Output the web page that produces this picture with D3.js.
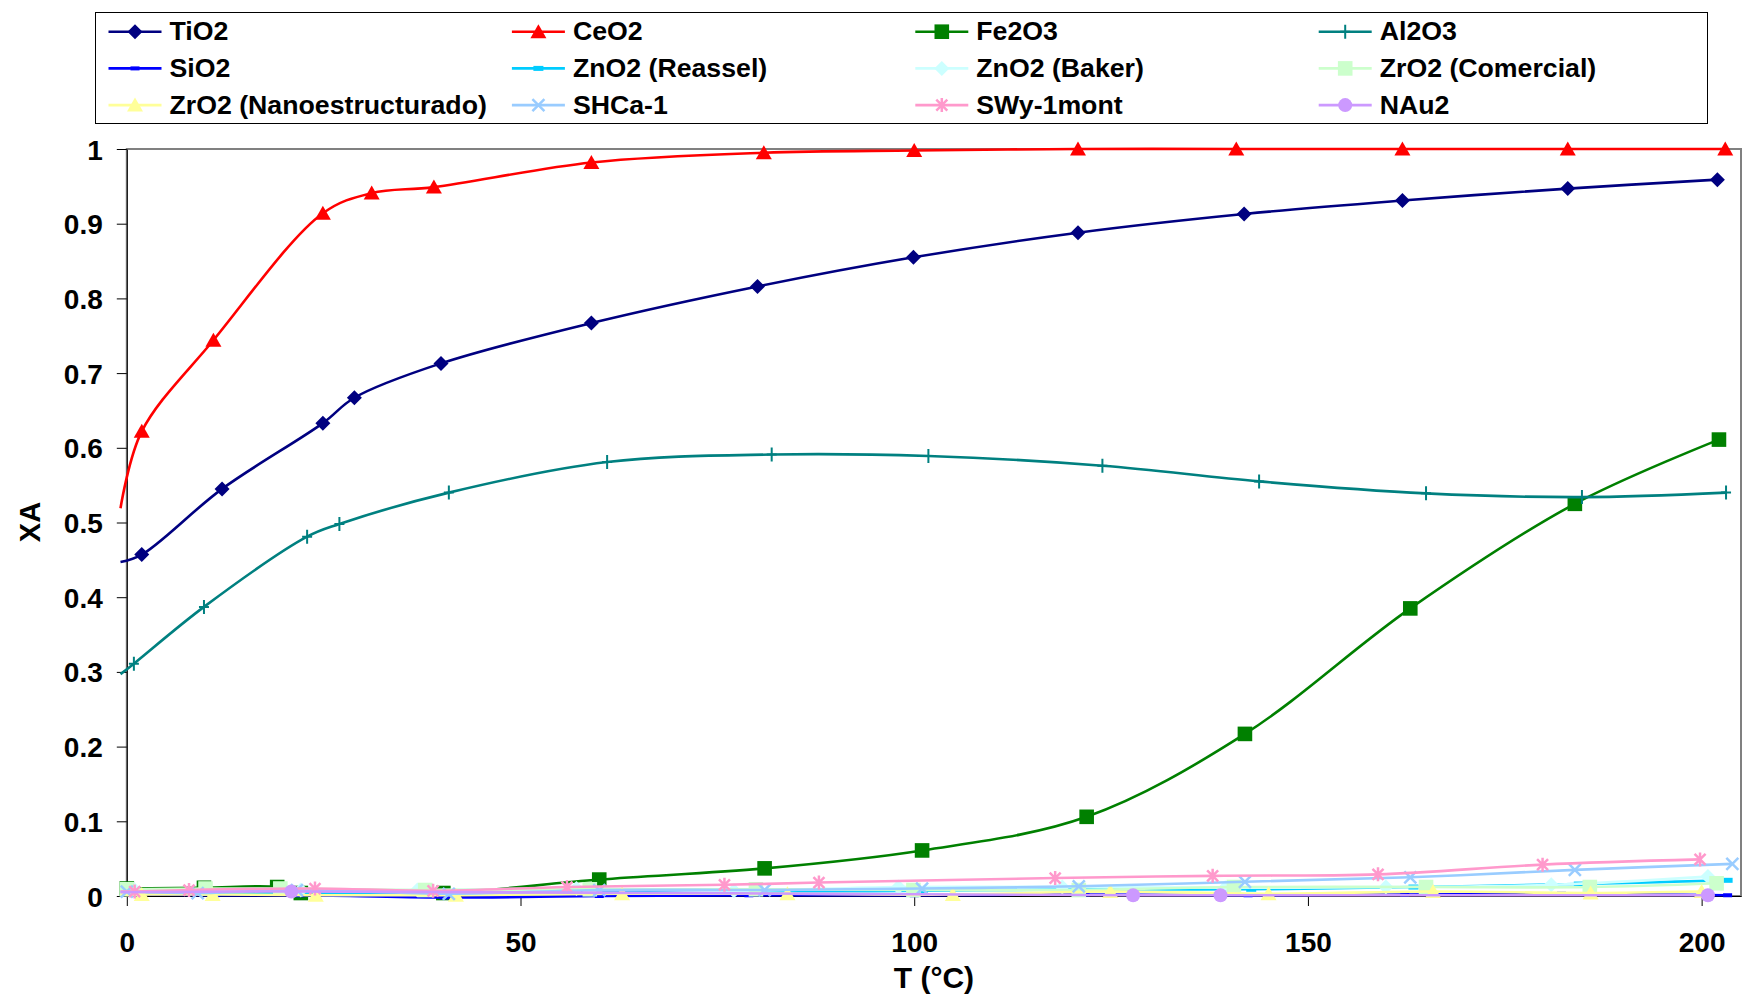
<!DOCTYPE html>
<html>
<head>
<meta charset="utf-8">
<script src="https://cdn.jsdelivr.net/npm/d3@7"></script>
<style>
  body { margin: 0; background: #fff; }
  svg { display: block; font-family: "Liberation Sans", Arial, sans-serif; font-weight: bold; }
</style>
</head>
<body>
<svg id="chart" width="1747" height="996"></svg>
<script>
// ---- Conversion XA vs temperature T (°C) for each catalyst ----
const seriesNames = ["TiO2", "CeO2", "Fe2O3", "Al2O3",
  "SiO2", "ZnO2 (Reassel)", "ZnO2 (Baker)", "ZrO2 (Comercial)",
  "ZrO2 (Nanoestructurado)", "SHCa-1", "SWy-1mont", "NAu2"];

const T_TiO2  = [-0.8, 1.9, 12.1, 24.9, 28.9, 39.9, 59.0, 80.1, 99.9, 120.8, 141.9, 162.0, 183.0, 202.0];
const XA_TiO2 = [0.447, 0.457, 0.545, 0.633, 0.667, 0.713, 0.767, 0.816, 0.855, 0.888, 0.913, 0.931, 0.947, 0.959];

const T_CeO2  = [-0.8, 1.9, 11.0, 24.9, 31.1, 39.0, 59.0, 80.9, 100.0, 120.8, 140.9, 162.0, 183.0, 203.0];
const XA_CeO2 = [0.519, 0.622, 0.744, 0.914, 0.941, 0.949, 0.982, 0.995, 0.998, 1.0, 1.0, 1.0, 1.0, 1.0];

const T_Fe2O3  = [-0.8, 0.0, 9.8, 19.1, 22.1, 40.2, 60.0, 81.0, 101.0, 121.9, 142.0, 163.0, 183.9, 202.2];
const XA_Fe2O3 = [0.010, 0.010, 0.011, 0.012, 0.004, 0.004, 0.022, 0.037, 0.061, 0.106, 0.217, 0.385, 0.525, 0.611];

const T_Al2O3  = [-0.8, 0.9, 9.8, 22.9, 27.0, 40.9, 61.0, 81.9, 101.8, 123.9, 143.8, 165.0, 184.8, 203.1];
const XA_Al2O3 = [0.297, 0.311, 0.387, 0.481, 0.498, 0.540, 0.581, 0.591, 0.589, 0.576, 0.555, 0.539, 0.534, 0.540];

const T_SiO2  = [-0.8, 1.5, 11.2, 22.0, 40.3, 60.0, 79.0, 100.0, 121.7, 142.4, 162.3, 182.2, 203.3];
const XA_SiO2 = [0.002, 0.002, 0.001, 0.001, -0.002, 0.000, 0.001, 0.001, 0.002, 0.001, 0.002, 0.003, 0.001];

const T_ZnO2R  = [-0.8, 1.0, 11.0, 21.0, 40.0, 60.0, 80.0, 101.1, 122.2, 142.8, 163.4, 184.4, 203.3];
const XA_ZnO2R = [0.003, 0.003, 0.003, 0.004, 0.004, 0.006, 0.006, 0.007, 0.009, 0.009, 0.012, 0.016, 0.021];

const T_ZnO2B  = [-0.8, 1.0, 22.1, 36.9, 57.1, 77.1, 98.0, 118.8, 139.5, 159.9, 180.9, 200.8];
const XA_ZnO2B = [0.008, 0.008, 0.008, 0.008, 0.010, 0.007, 0.012, 0.012, 0.011, 0.012, 0.015, 0.026];

const T_ZrO2C  = [-0.8, 0.0, 10.0, 19.5, 37.9, 58.8, 79.9, 99.9, 120.9, 140.6, 165.0, 185.8, 201.9];
const XA_ZrO2C = [0.009, 0.009, 0.010, 0.010, 0.008, 0.009, 0.009, 0.008, 0.008, 0.012, 0.012, 0.012, 0.017];

const T_ZrO2N  = [-0.8, 1.9, 10.9, 24.0, 41.8, 62.9, 83.9, 104.9, 124.9, 145.0, 165.9, 185.9, 200.0];
const XA_ZrO2N = [0.002, 0.002, 0.002, 0.001, 0.001, 0.003, 0.003, 0.002, 0.006, 0.003, 0.006, 0.004, 0.006];

const T_SHCa  = [-0.8, 0.0, 9.0, 21.6, 40.9, 60.0, 81.0, 101.0, 120.9, 142.0, 163.0, 183.9, 203.9];
const XA_SHCa = [0.006, 0.006, 0.004, 0.008, 0.003, 0.008, 0.008, 0.010, 0.013, 0.019, 0.025, 0.035, 0.043];

const T_SWy  = [-0.8, 1.0, 7.9, 23.9, 38.9, 55.9, 75.9, 87.9, 117.9, 137.9, 158.9, 179.8, 199.8];
const XA_SWy = [0.006, 0.006, 0.008, 0.010, 0.007, 0.012, 0.015, 0.018, 0.024, 0.027, 0.029, 0.042, 0.049];

const T_NAu2  = [-0.8, 20.9, 127.8, 138.9, 200.8];
const XA_NAu2 = [0.005, 0.006, 0.001, 0.001, 0.001];

const xTicks = [0, 50, 100, 150, 200];
const yTicks = [0, 0.1, 0.2, 0.3, 0.4, 0.5, 0.6, 0.7, 0.8, 0.9, 1];
const xTitle = "T (°C)";
const yTitle = "XA";

// ---- styles ----
const style = {
  "TiO2":                    { color: "#000080", marker: "diamond" },
  "CeO2":                    { color: "#FF0000", marker: "triangle" },
  "Fe2O3":                   { color: "#008000", marker: "square" },
  "Al2O3":                   { color: "#008080", marker: "plus" },
  "SiO2":                    { color: "#0000FF", marker: "dashS" },
  "ZnO2 (Reassel)":          { color: "#00CCFF", marker: "dashL" },
  "ZnO2 (Baker)":            { color: "#CCFFFF", marker: "diamond" },
  "ZrO2 (Comercial)":        { color: "#CCFFCC", marker: "square" },
  "ZrO2 (Nanoestructurado)": { color: "#FFFF99", marker: "triangle" },
  "SHCa-1":                  { color: "#99CCFF", marker: "x" },
  "SWy-1mont":               { color: "#FF99CC", marker: "star" },
  "NAu2":                    { color: "#CC99FF", marker: "circle" }
};

const seriesT  = [T_TiO2, T_CeO2, T_Fe2O3, T_Al2O3, T_SiO2, T_ZnO2R, T_ZnO2B, T_ZrO2C, T_ZrO2N, T_SHCa, T_SWy, T_NAu2];
const seriesXA = [XA_TiO2, XA_CeO2, XA_Fe2O3, XA_Al2O3, XA_SiO2, XA_ZnO2R, XA_ZnO2B, XA_ZrO2C, XA_ZrO2N, XA_SHCa, XA_SWy, XA_NAu2];

const series = seriesNames.map((name, i) => ({
  name,
  points: seriesT[i].map((t, j) => ({ t, v: seriesXA[i][j] }))
}));

// ---- layout ----
const svg = d3.select("#chart");
const plot = { left: 126.8, right: 1741, top: 149, bottom: 896 };

const x = d3.scaleLinear().domain([0, 205]).range([plot.left, plot.right]);
const y = d3.scaleLinear().domain([0, 1]).range([plot.bottom, plot.top]);

// plot area frame
svg.append("rect")
  .attr("x", plot.left).attr("y", plot.top)
  .attr("width", plot.right - plot.left).attr("height", plot.bottom - plot.top)
  .attr("fill", "none").attr("stroke", "#808080").attr("stroke-width", 2);

// y axis
const yAxis = svg.append("g")
  .attr("transform", `translate(${plot.left},0)`)
  .call(d3.axisLeft(y).tickValues(yTicks).tickSize(10).tickSizeOuter(0).tickPadding(14)
    .tickFormat(d => String(+d.toFixed(1))));
yAxis.select(".domain").attr("stroke", "#000").attr("stroke-width", 1);
yAxis.selectAll(".tick line").attr("stroke", "#000");
yAxis.selectAll(".tick text")
  .attr("font-size", 28).attr("font-weight", "bold").attr("fill", "#000")
  .attr("font-family", "'Liberation Sans', Arial, sans-serif")
  .attr("dy", "0.36em");

// x axis
const xAxis = svg.append("g")
  .attr("transform", `translate(0,${plot.bottom})`)
  .call(d3.axisBottom(x).tickValues(xTicks).tickSize(10).tickSizeOuter(0)
    .tickFormat(d3.format("d")));
xAxis.select(".domain").attr("stroke", "#000").attr("stroke-width", 1);
xAxis.selectAll(".tick line").attr("stroke", "#000");
xAxis.selectAll(".tick text")
  .attr("font-size", 28).attr("font-weight", "bold").attr("fill", "#000")
  .attr("font-family", "'Liberation Sans', Arial, sans-serif")
  .attr("y", 56).attr("dy", 0);

// axis titles
svg.append("text")
  .attr("x", (plot.left + plot.right) / 2).attr("y", 988)
  .attr("text-anchor", "middle").attr("font-size", 30).attr("fill", "#000")
  .text(xTitle);
svg.append("text")
  .attr("transform", "translate(39.5,522) rotate(-90)")
  .attr("text-anchor", "middle").attr("font-size", 29).attr("fill", "#000")
  .text(yTitle);

// ---- markers ----
function drawMarker(g, kind, color) {
  switch (kind) {
    case "diamond":
      g.append("path").attr("d", "M0,-7.5L7.5,0L0,7.5L-7.5,0Z").attr("fill", color); break;
    case "triangle":
      g.append("path").attr("d", "M0,-7.5L8,6.5L-8,6.5Z").attr("fill", color); break;
    case "square":
      g.append("rect").attr("x", -7.3).attr("y", -7.3).attr("width", 14.6).attr("height", 14.6).attr("fill", color); break;
    case "plus":
      g.append("path").attr("d", "M-5,0H5M0,-7V7").attr("stroke", color).attr("stroke-width", 2).attr("fill", "none"); break;
    case "x":
      g.append("path").attr("d", "M-6,-6L6,6M-6,6L6,-6").attr("stroke", color).attr("stroke-width", 2.5).attr("fill", "none"); break;
    case "star":
      g.append("path").attr("d", "M-5.5,-5.5L5.5,5.5M-5.5,5.5L5.5,-5.5M0,-7V7").attr("stroke", color).attr("stroke-width", 2.5).attr("fill", "none"); break;
    case "dashS":
      g.append("rect").attr("x", -4.5).attr("y", -2).attr("width", 9).attr("height", 4).attr("fill", color); break;
    case "dashL":
      g.append("rect").attr("x", -5).attr("y", -2.5).attr("width", 10).attr("height", 5).attr("fill", color); break;
    case "circle":
      g.append("circle").attr("r", 7).attr("fill", color); break;
  }
}

// ---- series ----
const line = d3.line()
  .x(d => x(d.t)).y(d => y(d.v))
  .curve(d3.curveCatmullRom.alpha(0.5));

const layer = svg.append("g");
series.forEach(s => {
  const st = style[s.name];
  const g = layer.append("g");
  g.append("path")
    .datum(s.points)
    .attr("d", line)
    .attr("fill", "none")
    .attr("stroke", st.color)
    .attr("stroke-width", 2.6)
    .attr("stroke-linejoin", "round");
  // markers only inside the axis range
  s.points.filter(p => p.t >= 0).forEach(p => {
    const m = g.append("g").attr("transform", `translate(${x(p.t)},${y(p.v)})`);
    drawMarker(m, st.marker, st.color);
  });
});

// ---- legend ----
const legend = svg.append("g");
legend.append("rect")
  .attr("x", 95.5).attr("y", 12.5).attr("width", 1612).attr("height", 111)
  .attr("fill", "#fff").attr("stroke", "#000").attr("stroke-width", 1);

seriesNames.forEach((name, i) => {
  const col = i % 4, row = Math.floor(i / 4);
  const lx = 108.5 + col * 403.4;
  const ly = 31.7 + row * 36.7;
  const st = style[name];
  const item = legend.append("g");
  item.append("line")
    .attr("x1", lx).attr("x2", lx + 53).attr("y1", ly).attr("y2", ly)
    .attr("stroke", st.color).attr("stroke-width", 2.6);
  drawMarker(item.append("g").attr("transform", `translate(${lx + 26.5},${ly})`), st.marker, st.color);
  item.append("text")
    .attr("x", lx + 61).attr("y", ly + 8.7)
    .attr("font-size", 26.7).attr("fill", "#000")
    .text(name);
});
</script>
</body>
</html>
